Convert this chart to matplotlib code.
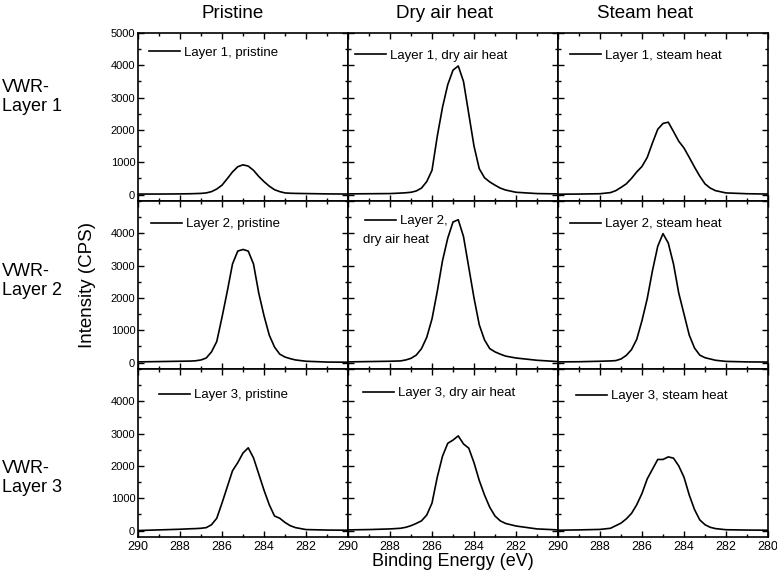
# XPS C 1s spectra of VWR layers - pristine / dry air heat / steam heat
import numpy as np
import matplotlib
matplotlib.use('Agg')
import matplotlib.pyplot as plt
from matplotlib.ticker import MultipleLocator

plt.rcParams['font.family'] = ['Liberation Sans', 'DejaVu Sans']

# Binding energy grid (eV)
energy = [290, 289, 288, 287.5, 287.25, 287, 286.75, 286.5, 286.25, 286, 285.75, 285.5, 285.25,
          285, 284.75, 284.5, 284.25, 284, 283.75, 283.5, 283.25, 283, 282.75, 282.5, 282, 281, 280]

# Intensity (CPS)
l1_pristine = [15, 15, 20, 25, 30, 35, 50, 90, 170, 290, 490, 700, 860,
               920, 880, 750, 560, 400, 260, 150, 90, 50, 40, 35, 30, 20, 15]
l1_dry = [20, 25, 30, 45, 55, 70, 110, 200, 400, 750, 1800, 2700, 3400,
          3850, 3980, 3500, 2500, 1500, 800, 520, 390, 290, 200, 140, 70, 30, 20]
l1_steam = [10, 15, 25, 60, 120, 220, 330, 500, 700, 870, 1150, 1600, 2020,
            2200, 2240, 1950, 1650, 1440, 1150, 850, 570, 330, 200, 120, 50, 25, 15]
l2_pristine = [20, 30, 40, 45, 55, 80, 140, 330, 650, 1400, 2200, 3050, 3450,
               3500, 3450, 3050, 2150, 1450, 850, 480, 260, 170, 120, 80, 40, 15, 10]
l2_dry = [20, 30, 40, 50, 80, 130, 230, 430, 780, 1350, 2200, 3150, 3850,
          4350, 4420, 3900, 2950, 2000, 1170, 700, 430, 330, 260, 200, 140, 70, 30]
l2_steam = [20, 25, 40, 50, 60, 110, 220, 400, 720, 1300, 1980, 2850, 3600,
            3990, 3700, 3050, 2150, 1500, 850, 450, 230, 150, 110, 70, 35, 20, 15]
l3_pristine = [0, 20, 40, 55, 60, 70, 90, 180, 380, 850, 1350, 1850, 2100,
               2400, 2560, 2250, 1750, 1250, 800, 450, 380, 250, 150, 90, 30, 15, 10]
l3_dry = [20, 30, 50, 70, 100, 150, 220, 300, 480, 850, 1650, 2300, 2700,
          2800, 2930, 2680, 2550, 2100, 1550, 1100, 720, 450, 300, 220, 140, 50, 20]
l3_steam = [10, 20, 35, 70, 150, 230, 360, 530, 800, 1150, 1600, 1900, 2200,
            2200, 2280, 2240, 2000, 1650, 1100, 650, 330, 180, 100, 60, 25, 15, 10]

spectra = [[l1_pristine, l1_dry, l1_steam],
           [l2_pristine, l2_dry, l2_steam],
           [l3_pristine, l3_dry, l3_steam]]
labels = [['Layer 1, pristine', 'Layer 1, dry air heat', 'Layer 1, steam heat'],
          ['Layer 2, pristine', 'Layer 2,', 'Layer 2, steam heat'],
          ['Layer 3, pristine', 'Layer 3, dry air heat', 'Layer 3, steam heat']]
col_titles = ['Pristine', 'Dry air heat', 'Steam heat']
row_titles = ['VWR-\nLayer 1', 'VWR-\nLayer 2', 'VWR-\nLayer 3']

# legend anchor (px from left, px from top of each panel)
leg_pos = [[(11, 20), (7, 23), (12, 23)],
           [(13, 23), (17, 20), (12, 23)],
           [(21, 26), (15, 24), (18, 27)]]

fig = plt.figure(figsize=(7.77, 5.78), dpi=100)
W, H = 777, 578
left, right, top, bottom = 138, 768, 33, 537
fig.subplots_adjust(left=left / W, right=right / W, top=1 - top / H, bottom=1 - bottom / H,
                    hspace=0, wspace=0)
axes = fig.subplots(3, 3)
panel_w = (right - left) / 3
panel_h = (bottom - top) / 3

for r in range(3):
    for c in range(3):
        ax = axes[r][c]
        ax.plot(energy, spectra[r][c], color='black', linewidth=1.2, label=labels[r][c])
        ax.set_xlim(290, 280)
        ax.set_ylim(-200, 5000)
        ax.xaxis.set_major_locator(MultipleLocator(2))
        ax.xaxis.set_minor_locator(MultipleLocator(1))
        ax.yaxis.set_major_locator(MultipleLocator(1000))
        ax.yaxis.set_minor_locator(MultipleLocator(500))
        ax.tick_params(which='both', direction='in', top=True, right=True, width=1)
        ax.tick_params(which='major', length=4)
        ax.tick_params(which='minor', length=2)
        ax.tick_params(axis='x', labelsize=9, pad=3)
        ax.tick_params(axis='y', labelsize=8, pad=2)
        for sp in ax.spines.values():
            sp.set_linewidth(1.2)
        dx, dy = leg_pos[r][c]
        ax.legend(loc='center left', bbox_to_anchor=(dx / panel_w, 1 - dy / panel_h),
                  frameon=False, fontsize=9.5, handlelength=2.35, handletextpad=0.3,
                  borderpad=0, borderaxespad=0)
        if c > 0:
            ax.set_yticklabels([])
        else:
            yt = [0, 1000, 2000, 3000, 4000, 5000] if r == 0 else [0, 1000, 2000, 3000, 4000]
            ax.set_yticks(yt)
        if r < 2:
            ax.set_xticklabels([])
        else:
            xt = [290, 288, 286, 284, 282, 280] if c == 2 else [290, 288, 286, 284, 282]
            ax.set_xticks(xt)

axes[1][1].text(15 / panel_w, 1 - 39 / panel_h, 'dry air heat', transform=axes[1][1].transAxes,
                fontsize=9.5, ha='left', va='center')

title_x = [233, 445, 645]
for c in range(3):
    fig.text(title_x[c] / W, 1 - 14 / H, col_titles[c], fontsize=13.5, ha='center', va='center')

row_y = [97, 281, 478]
for r in range(3):
    fig.text(2 / W, 1 - row_y[r] / H, row_titles[r], fontsize=13, ha='left', va='center',
             linespacing=1.2)

fig.text(88 / W, 1 - 285 / H, 'Intensity (CPS)', fontsize=13.5, rotation=90,
         ha='center', va='center')
fig.text(453 / W, 1 - 562 / H, 'Binding Energy (eV)', fontsize=13, ha='center', va='center')

plt.savefig('out.png', dpi=100)
plt.close('all')
